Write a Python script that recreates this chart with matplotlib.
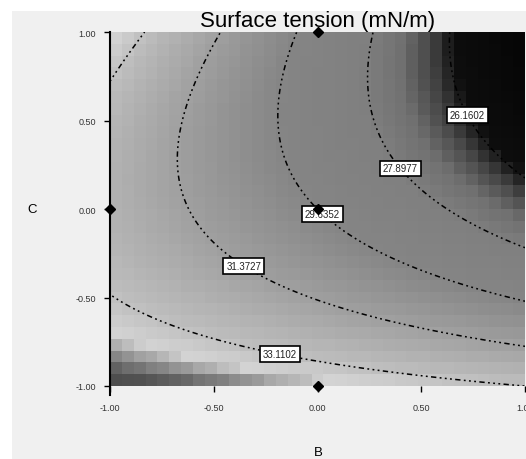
import numpy as np
import matplotlib.pyplot as plt
from matplotlib.colors import LinearSegmentedColormap
from matplotlib.patches import Rectangle

# Response surface (coded factors B, C), quadratic model:
# terms: 1, B, C, B*C, B^2, C^2
model_terms = ['1', 'B', 'C', 'BC', 'B2', 'C2']
model_coef = [29.633, -2.7905, -2.3922, -1.9336, 0.0176, 1.9218]

contour_levels = [26.1602, 27.8977, 29.6352, 31.3727, 33.1102]
# where each contour label sits (B, C)
label_pos = [(0.735, 0.537), (0.407, 0.237), (0.046, 0.0),
             (-0.344, -0.299), (-0.176, -0.791)]

# design points shown on the plot
design_b = [0.0, -1.0, 0.0, 0.0]
design_c = [1.0, 0.0, 0.0, -1.0]

tick_vals = [-1.0, -0.5, 0.0, 0.5, 1.0]
tick_text = ['-1.00', '-0.50', '0.00', '0.50', '1.00']

# grayscale rendering of the rainbow legend (value -> gray level)
gray_vals = [24.4, 26.0, 26.6, 27.2, 28.0, 29.6, 31.3, 33.0, 33.7, 34.1, 34.5, 34.9]
gray_lvls = [0.02, 0.05, 0.28, 0.44, 0.50, 0.52, 0.62, 0.74, 0.83, 0.56, 0.33, 0.27]


def response(b, c):
    k = model_coef
    return k[0] + k[1]*b + k[2]*c + k[3]*b*c + k[4]*b**2 + k[5]*c**2


vmin, vmax = gray_vals[0], gray_vals[-1]
nodes = [((v - vmin)/(vmax - vmin), (g, g, g)) for v, g in zip(gray_vals, gray_lvls)]
cmap = LinearSegmentedColormap.from_list('dx_gray', nodes)

plt.rcParams['font.family'] = ['Liberation Sans', 'DejaVu Sans']

fig = plt.figure(figsize=(5.26, 4.60), dpi=100)
fig.patch.set_facecolor('white')
fig.add_artist(Rectangle((12/526, 0), 1, 1 - 12/460, transform=fig.transFigure,
                         facecolor='#f0f0f0', edgecolor='none', zorder=-10))

ax = fig.add_axes([110/526, 73/460, 415/526, 354/460])
ax.set_facecolor('#f0f0f0')

# coarse cells, like the original shading
be = np.linspace(-1, 1, 36)
ce = np.linspace(-1, 1, 31)
bc, cc = np.meshgrid((be[:-1] + be[1:])/2, (ce[:-1] + ce[1:])/2)
ax.pcolormesh(be, ce, response(bc, cc), cmap=cmap, vmin=vmin, vmax=vmax,
              shading='flat', zorder=1)

bf, cf = np.meshgrid(np.linspace(-1, 1, 300), np.linspace(-1, 1, 300))
zf = response(bf, cf)
cs = ax.contour(bf, cf, zf, levels=contour_levels, colors='k', linewidths=1.1,
                linestyles=[(0, (1.2, 2.2, 1.2, 2.2, 1.2, 2.2, 3.5, 2.2))],
                zorder=2)
# the highest level also closes off the top-left corner (unlabelled)
labels = ax.clabel(cs, contour_levels, inline=False, fontsize=7, fmt='%.4f',
                   manual=label_pos)
for t in labels:
    t.set_rotation(0)
    t.set_color('#222222')
    t.set_bbox(dict(boxstyle='square,pad=0.3', facecolor='white',
                    edgecolor='black', linewidth=1.2))
    t.set_zorder(4)

ax.plot(design_b, design_c, 'D', color='black', ms=5, clip_on=False, zorder=5)

ax.set_xlim(-1, 1)
ax.set_ylim(-1, 1)
ax.set_xticks(tick_vals)
ax.set_xticklabels(tick_text)
ax.set_yticks(tick_vals)
ax.set_yticklabels(tick_text)
ax.tick_params(axis='both', length=4, width=1, color='black', labelsize=6.5,
               labelcolor='#333333')
ax.tick_params(axis='x', pad=8)
ax.tick_params(axis='y', pad=6)
for s in ['top', 'right', 'bottom']:
    ax.spines[s].set_visible(False)
ax.spines['left'].set_linewidth(1.5)
ax.spines['left'].set_bounds(-1.05, 1)

ax.set_title('Surface tension (mN/m)', fontsize=16, pad=4)
fig.text(318/526, 7/460, 'B', ha='center', va='center', fontsize=9.5)
fig.text(32/526, 1 - 210/460, 'C', ha='center', va='center', fontsize=9.5)

fig.savefig('out.png', dpi=100, facecolor=fig.get_facecolor())
